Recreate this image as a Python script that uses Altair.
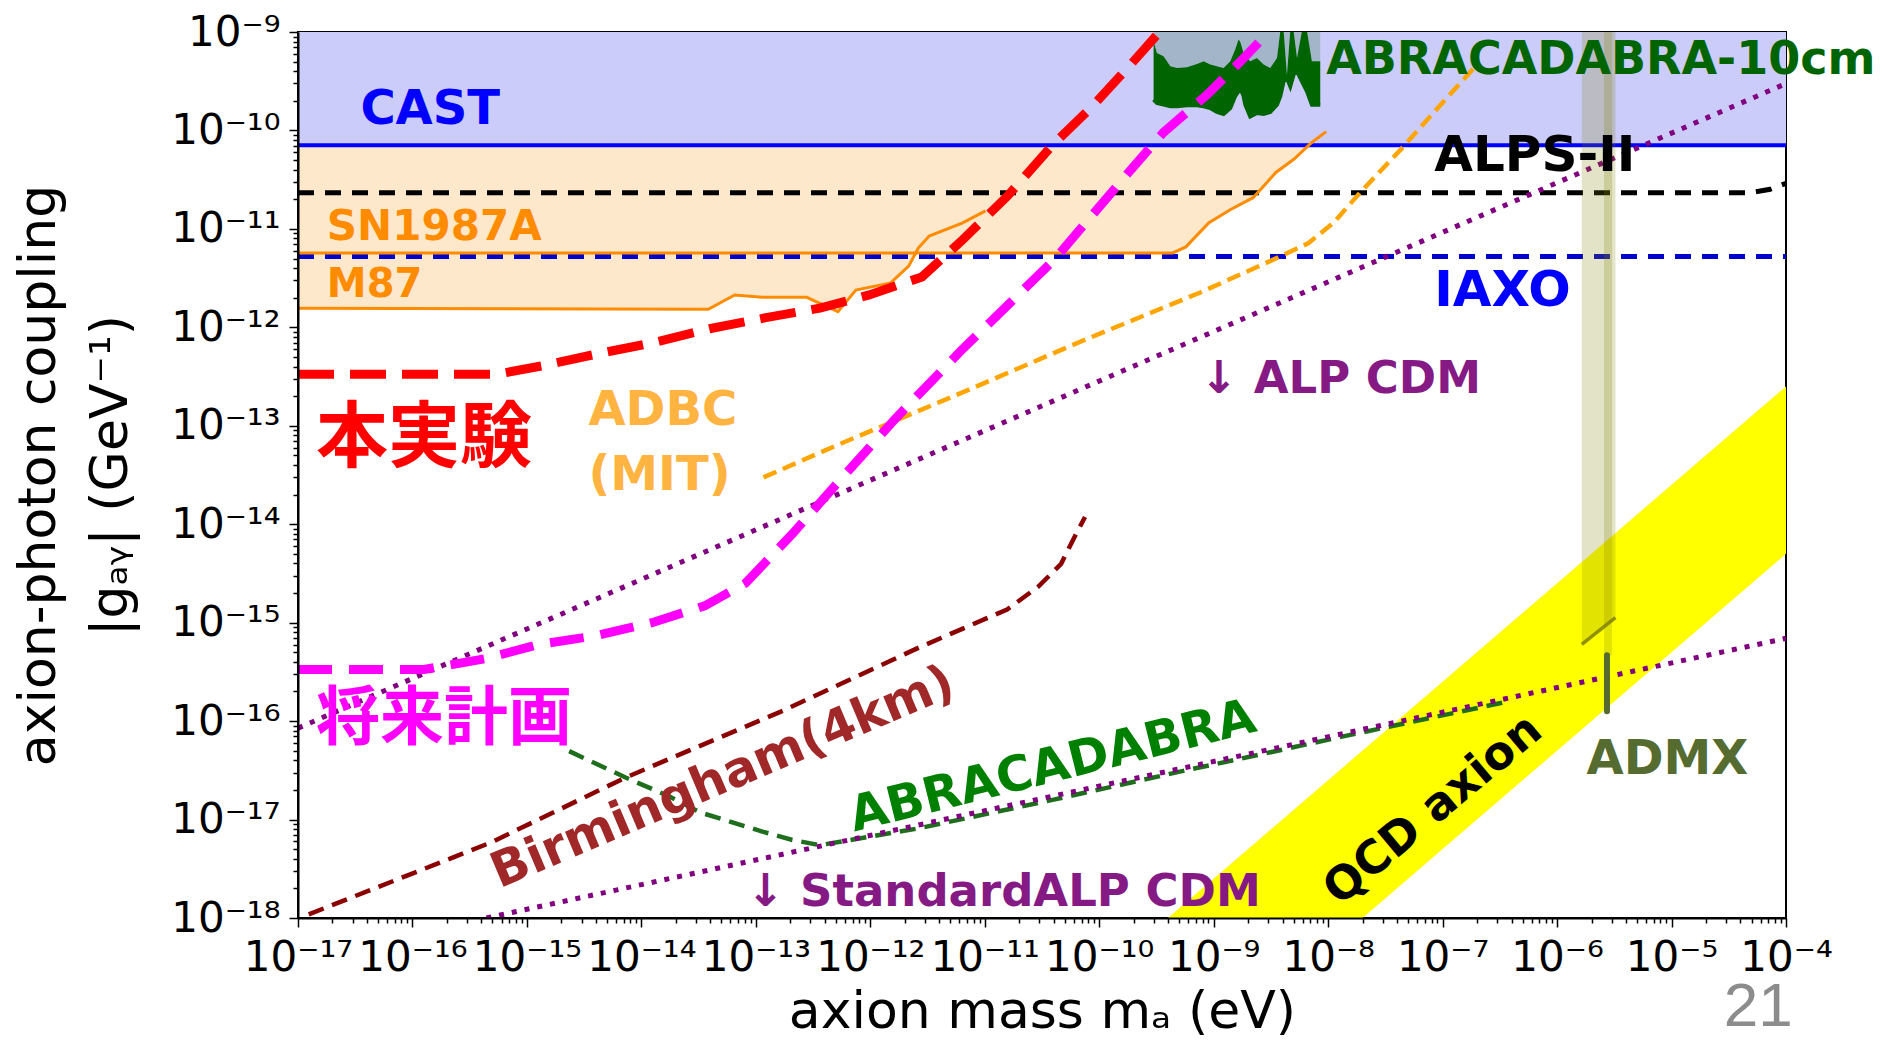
import json
import numpy as np
import pandas as pd
import altair as alt

# ---------------- data: log10 values ----------------
x_exponents = list(range(-17, -3))      # 1e-17 ... 1e-4  (axion mass, eV)
y_exponents = list(range(-18, -8))      # 1e-18 ... 1e-9  (coupling, GeV^-1)
SUP = str.maketrans("-0123456789", "⁻⁰¹²³⁴⁵⁶⁷⁸⁹")
x_tick_labels = ["10" + str(e).translate(SUP) for e in x_exponents]
y_tick_labels = ["10" + str(e).translate(SUP) for e in y_exponents]

cast_logm = [-17.0, -4.0]
cast_logg = [-10.15, -10.15]

alps_logm = [-17.0, -4.316, -4.138, -4.0]
alps_logg = [-10.634, -10.634, -10.598, -10.537]

iaxo_logm = [-17.0, -4.0]
iaxo_logg = [-11.28, -11.28]

sn_logm = [-17.0, -9.358, -9.243, -9.044, -8.856, -8.656, -8.541, -8.457, -8.300, -8.143, -8.017]
sn_logg = [-11.244, -11.244, -11.183, -10.939, -10.805, -10.683, -10.537, -10.427, -10.293, -10.122, -10.012]

m87_logm = [-17.0, -13.415, -13.185, -12.943, -12.556, -12.283, -12.126, -11.822, -11.665, -11.581, -11.486, -11.193, -10.994]
m87_logg = [-11.805, -11.817, -11.671, -11.695, -11.695, -11.841, -11.622, -11.549, -11.378, -11.195, -11.073, -10.939, -10.817]

abra10_logm = [-9.525, -9.496, -9.438, -9.379, -9.321, -9.234, -9.146, -9.088, -9.030, -8.972, -8.914,
               -8.855, -8.812, -8.783, -8.768, -8.739, -8.724, -8.681, -8.622, -8.564, -8.506, -8.447,
               -8.418, -8.389, -8.360, -8.331, -8.302, -8.272, -8.229, -8.185, -8.142, -8.098, -8.069]
abra10_upper = [-9.094, -9.213, -9.247, -9.348, -9.365, -9.358, -9.324, -9.297, -9.331, -9.348, -9.365,
                -9.297, -9.179, -9.077, -9.10, -9.213, -9.24, -9.297, -9.264, -9.331, -9.365, -9.264,
                -8.99, -8.99, -9.433, -8.99, -8.99, -9.264, -8.99, -8.99, -9.297, -9.297, -9.297]
abra10_lower = [-9.687, -9.72, -9.738, -9.755, -9.755, -9.745, -9.745, -9.755, -9.772, -9.812, -9.832,
                -9.772, -9.65, -9.602, -9.568, -9.65, -9.738, -9.857, -9.822, -9.832, -9.812, -9.738,
                -9.653, -9.501, -9.467, -9.552, -9.433, -9.40, -9.501, -9.602, -9.738, -9.738, -9.738]

adbc_logm = [-12.933, -12.262, -11.214, -10.166, -9.117, -8.488, -8.174, -7.954, -7.723, -7.367, -7.021, -6.727]
adbc_logg = [-13.524, -13.183, -12.671, -12.146, -11.646, -11.317, -11.146, -10.939, -10.634, -10.195, -9.744, -9.366]

red_logm = [-17.0, -15.26, -14.862, -14.379, -13.908, -13.394, -12.912, -12.440, -12.010, -11.549, -11.193, -10.805, -10.417, -10.061, -9.715, -9.474]
red_logg = [-12.476, -12.476, -12.390, -12.268, -12.159, -12.012, -11.902, -11.805, -11.671, -11.488, -11.110, -10.671, -10.159, -9.756, -9.317, -9.0]

mag_logm = [-17.0, -15.899, -15.365, -14.893, -14.400, -13.908, -13.447, -13.090, -12.681, -12.262, -11.790, -11.214, -10.396, -9.725, -9.442, -9.055, -8.771, -8.520]
mag_logg = [-15.476, -15.476, -15.366, -15.220, -15.134, -15.0, -14.829, -14.598, -14.098, -13.549, -12.939, -12.244, -11.317, -10.402, -10.024, -9.634, -9.305, -9.0]

bir_logm = [-16.906, -15.312, -14.138, -12.755, -11.581, -10.805, -10.532, -10.333, -10.218, -10.124]
bir_logg = [-17.963, -17.232, -16.573, -15.890, -15.256, -14.866, -14.634, -14.402, -14.134, -13.927]

abra_logm = [-14.631, -14.138, -13.750, -13.488, -12.943, -12.681, -12.440, -11.581, -10.407, -9.243, -8.677, -7.807, -6.465]
abra_logg = [-16.305, -16.573, -16.768, -16.927, -17.122, -17.207, -17.26, -17.09, -16.80, -16.50, -16.36, -16.14, -15.81]

alpcdm_logm = [-17.0, -4.0]
alpcdm_logg = [-16.071, -9.524]

stdalp_logm = [-15.354, -4.0]
stdalp_logg = [-18.0, -15.159]

qcd_logm = [-9.4, -4.0]
qcd_upper = [-18.0, -12.6]
qcd_lower = [-19.7, -14.3]

admx_logm = [-5.784, -5.49]
admx_bottom = [-15.22, -14.95]
admx_core_logm = [-5.59, -5.52]
admx_core_bottom = [-15.33, -15.33]
admx_top = [-9.0, -9.0]
admx_seg_logm = [-5.564]
admx_seg_logg = [-15.33]
admx_seg_logg2 = [-15.90]

label_texts = ["CAST", "SN1987A", "M87", "本実験", "将来計画", "ADBC", "(MIT)", "ALPS-II", "IAXO",
               "↓ ALP CDM", "ADMX", "↓ StandardALP CDM", "ABRACADABRA-10cm", "Birmingham(4km)",
               "ABRACADABRA", "QCD axion", "21"]
label_logm = [-16.455, -16.748, -16.748, -16.843, -16.843, -14.463, -14.463, -7.073, -7.073,
              -9.117, -5.742, -13.080, -8.017, -13.289, -10.407, -7.084, -4.243]
label_logg = [-9.793, -10.976, -11.573, -13.134, -15.988, -12.854, -13.512, -10.256, -11.634,
              -12.524, -16.390, -17.732, -9.280, -16.573, -16.463, -16.902, -18.90]

# ---------------- helpers ----------------
def frame(logm, logg, logg2=None):
    d = {"m": np.power(10.0, np.array(logm, dtype=float)),
         "g": np.power(10.0, np.array(logg, dtype=float))}
    if logg2 is not None:
        d["g2"] = np.power(10.0, np.array(logg2, dtype=float))
    return pd.DataFrame(d)

MAJ = "abs(log(datum.value)/LN10 - round(log(datum.value)/LN10)) < 0.001"

x_ticks = sorted([10.0 ** e for e in x_exponents] +
                 [j * 10.0 ** e for e in x_exponents[:-1] for j in range(2, 10)])
y_ticks = sorted([10.0 ** e for e in y_exponents] +
                 [j * 10.0 ** e for e in y_exponents[:-1] for j in range(2, 10)])

x_label_expr = (MAJ + " ? " + json.dumps(x_tick_labels, ensure_ascii=False) +
                "[round(log(datum.value)/LN10) + 17] : ''")
y_label_expr = (MAJ + " ? " + json.dumps(y_tick_labels, ensure_ascii=False) +
                "[round(log(datum.value)/LN10) + 18] : ''")

x_axis = alt.Axis(
    values=x_ticks, labelExpr=x_label_expr,
    tickSize={"condition": {"test": MAJ, "value": 9}, "value": 5},
    tickWidth=1.5, tickColor="black",
    labelFont="DejaVu Sans", labelFontSize=42, labelColor="black", labelPadding=10,
    labelOverlap=False, labelFlush=False, labelBound=False,
    domain=True, domainColor="black", domainWidth=2, grid=False, zindex=1,
    title="axion mass mₐ (eV)", titleFont="DejaVu Sans", titleFontSize=52,
    titleFontWeight="normal", titleColor="black", titleY=109, titleBaseline="alphabetic",
)
y_axis = alt.Axis(
    values=y_ticks, labelExpr=y_label_expr,
    tickSize={"condition": {"test": MAJ, "value": 9}, "value": 5},
    tickWidth=1.5, tickColor="black",
    labelFont="DejaVu Sans", labelFontSize=42, labelColor="black", labelPadding=9,
    labelOverlap=False, labelFlush=False, labelBound=False,
    domain=True, domainColor="black", domainWidth=2, grid=False, zindex=1,
    title=["axion-photon coupling", "|gₐᵧ| (GeV⁻¹)"], titleFont="DejaVu Sans",
    titleFontSize=52, titleFontWeight="normal", titleColor="black",
    titleAngle=270, titleX=-260, titleY=443, titleBaseline="middle", titleAlign="center",
    titleLineHeight=72,
)
x_scale = alt.Scale(type="log", domain=[1e-17, 1e-4], nice=False)
y_scale = alt.Scale(type="log", domain=[1e-18, 1e-9], nice=False)

def X():
    return alt.X("m:Q", scale=x_scale, axis=x_axis)

def Y():
    return alt.Y("g:Q", scale=y_scale, axis=y_axis)

def area(df, color, opacity=1.0):
    return alt.Chart(df).mark_area(color=color, opacity=opacity, clip=True).encode(
        x=X(), y=Y(), y2=alt.Y2("g2:Q"))

def line(df, color, width, dash=None, opacity=1.0):
    kw = dict(color=color, strokeWidth=width, clip=True, opacity=opacity)
    if dash is not None:
        kw["strokeDash"] = dash
    return alt.Chart(df).mark_line(**kw).encode(x=X(), y=Y())

layers = [
    area(frame(sn_logm, sn_logg, [-9.0] * len(sn_logm)), "#fee8cc"),
    area(frame(m87_logm, m87_logg, [-9.0] * len(m87_logm)), "#fee8cc"),
    area(frame(cast_logm, cast_logg, [-9.0, -9.0]), "#ccccfa"),
    area(frame(abra10_logm, abra10_upper, [-9.0] * len(abra10_logm)), "#a3b5c8"),
    area(frame(abra10_logm, abra10_lower, abra10_upper), "#006400"),
    line(frame(abra10_logm, abra10_lower), "#006400", 4),
    area(frame(qcd_logm, qcd_lower, qcd_upper), "#ffff00"),
    line(frame(alps_logm, alps_logg), "#000000", 5, [16, 11]),
    line(frame(iaxo_logm, iaxo_logg), "#0000cd", 5, [16, 11]),
    line(frame(cast_logm, cast_logg), "#0000ff", 4),
    line(frame(sn_logm, sn_logg), "#ff8c00", 3),
    line(frame(m87_logm, m87_logg), "#ff8c00", 3),
    line(frame(adbc_logm, adbc_logg), "#ffa500", 4.5, [14, 7]),
    line(frame(bir_logm, bir_logg), "#8b0000", 4.5, [16, 9]),
    line(frame(abra_logm, abra_logg), "#1e6e1e", 4.5, [16, 9]),
    line(frame(alpcdm_logm, alpcdm_logg), "#800080", 5, [5, 8]),
    line(frame(stdalp_logm, stdalp_logg), "#800080", 5, [5, 8]),
    line(frame(red_logm, red_logg), "#ff0000", 9, [36, 16]),
    line(frame(mag_logm, mag_logg), "#ff00ff", 9, [34, 17]),
    area(frame(admx_logm, admx_bottom, admx_top), "#808000", 0.22),
    area(frame(admx_core_logm, admx_core_bottom, admx_top), "#808000", 0.22),
    line(frame(admx_logm, admx_bottom), "#808000", 3.5, None, 0.85),
    alt.Chart(frame(admx_seg_logm, admx_seg_logg, admx_seg_logg2)).mark_rule(
        color="#556b2f", strokeWidth=6, strokeCap="round").encode(
        x=X(), y=Y(), y2=alt.Y2("g2:Q")),
]

styles = {
    "CAST": dict(color="#0000ff", fontSize=48),
    "SN1987A": dict(color="#ff8c00", fontSize=42),
    "M87": dict(color="#ff8c00", fontSize=40),
    "本実験": dict(color="#ff0000", fontSize=72, font="Noto Sans CJK JP"),
    "将来計画": dict(color="#ff00ff", fontSize=64, font="Noto Sans CJK JP"),
    "ADBC": dict(color="#ffb340", fontSize=48),
    "(MIT)": dict(color="#ffb340", fontSize=48),
    "ALPS-II": dict(color="#000000", fontSize=50),
    "IAXO": dict(color="#0000ff", fontSize=50),
    "↓ ALP CDM": dict(color="#851a85", fontSize=45),
    "ADMX": dict(color="#556b2f", fontSize=48),
    "↓ StandardALP CDM": dict(color="#851a85", fontSize=45),
    "ABRACADABRA-10cm": dict(color="#006400", fontSize=46),
    "Birmingham(4km)": dict(color="#a02828", fontSize=49, angle=337, align="center"),
    "ABRACADABRA": dict(color="#008000", fontSize=49, angle=346, align="center"),
    "QCD axion": dict(color="#000000", fontSize=46, angle=320, align="center"),
    "21": dict(color="#8c8c8c", fontSize=62, font="Liberation Sans", fontWeight="normal",
               align="center"),
}

for t, lm, lg in zip(label_texts, label_logm, label_logg):
    kw = dict(font="DejaVu Sans", fontWeight="bold", align="left", baseline="middle")
    kw.update(styles[t])
    df = frame([lm], [lg])
    df["t"] = [t]
    layers.append(alt.Chart(df).mark_text(**kw).encode(x=X(), y=Y(), text="t:N"))

chart = alt.layer(*layers).properties(
    width=1488, height=886,
    padding={"left": 290, "top": 24, "right": 88, "bottom": 121},
    autosize=alt.AutoSizeParams(type="none"),
).configure_view(stroke="black", strokeWidth=2)

chart.save("out.html", embed_options={"renderer": "svg", "actions": False})
